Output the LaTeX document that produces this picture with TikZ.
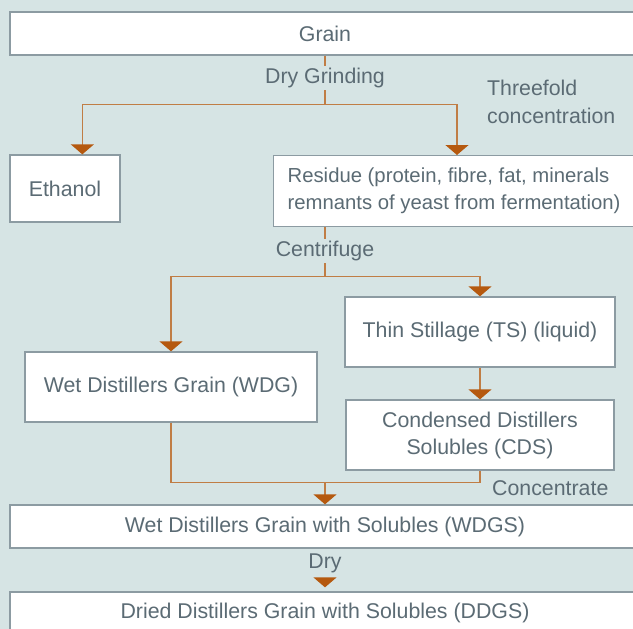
\documentclass[tikz,border=0pt]{standalone}
\usepackage{fontspec}
\setmainfont{Liberation Sans}
\usetikzlibrary{arrows.meta}
\definecolor{bg}{HTML}{D6E4E4}
\definecolor{bordc}{HTML}{8C9BA2}
\definecolor{txtc}{HTML}{5B6B74}
\definecolor{linec}{HTML}{C07D45}
\definecolor{tipc}{HTML}{B5590F}
\begin{document}
\begin{tikzpicture}[x=1pt,y=-1pt,
  every node/.style={font=\fontsize{21.33}{27}\selectfont, text=txtc},
  box/.style={draw=bordc, line width=1.3pt, fill=white, inner sep=0pt},
  lbl/.style={inner sep=2pt},
  conn/.style={draw=linec, line width=1.3pt},
  arr/.style={conn, -{Triangle[width=23pt,length=10pt,color=tipc]}},
]
\useasboundingbox (0,0) rectangle (633,629);
\clip (0,0) rectangle (633,629);
\fill[bg] (0,0) rectangle (633,629);

% boxes
\node[box, minimum width=630, minimum height=43] (grain) at (325,33.5) {Grain};
\node[box, minimum width=110, minimum height=67] (eth) at (65,188.5) {Ethanol};
\node[box, anchor=north west, minimum height=71, align=left, inner xsep=14pt,
  font=\fontsize{20.3}{27}\selectfont] (res) at (273,155)
  {Residue (protein, fibre, fat, minerals\\remnants of yeast from fermentation)};
\node[box, minimum width=270, minimum height=70] (ts) at (480,332) {Thin Stillage (TS) (liquid)};
\node[box, minimum width=268, minimum height=70, align=center] (cds) at (480,435) {Condensed Distillers\\Solubles (CDS)};
\node[box, minimum width=292, minimum height=70] (wdg) at (171,387) {Wet Distillers Grain (WDG)};
\node[box, minimum width=630, minimum height=43] (wdgs) at (325,526.5) {Wet Distillers Grain with Solubles (WDGS)};
\node[box, minimum width=630, minimum height=42] (ddgs) at (325,613) {Dried Distillers Grain with Solubles (DDGS)};

% labels
\node[lbl] (dg) at (325,78) {Dry Grinding};
\node[anchor=west, align=left, inner sep=0pt, font=\fontsize{21.33}{28}\selectfont] (three) at (487,102) {Threefold\\concentration};
\node[lbl] (cf) at (325,251) {Centrifuge};
\node[anchor=west, inner sep=0pt] (conc) at (492,488) {Concentrate};
\node[lbl, minimum height=30] (dry) at (325,563) {Dry};

% connectors
\coordinate (s1) at (325,104.5);
\coordinate (s2) at (325,276.5);
\coordinate (s3) at (325,482.5);
\draw[conn] (grain.south) -- (dg.north);
\draw[conn] (dg.south) -- (s1);
\draw[arr] (s1) -| ([xshift=73pt]eth.north west);
\draw[arr] (s1) -| ([xshift=184pt]res.north west);
\draw[conn] (cf |- res.south) -- (cf.north);
\draw[conn] (cf.south) -- (s2);
\draw[arr] (s2) -| (wdg.north);
\draw[arr] (s2) -| (ts.north);
\draw[arr] (ts.south) -- (cds.north);
\draw[conn] (wdg.south) |- (s3) -| (cds.south);
\draw[arr] (s3) -- (wdgs.north);
\draw[arr, shorten >=4pt] (dry.south) -- (ddgs.north);
\end{tikzpicture}
\end{document}
